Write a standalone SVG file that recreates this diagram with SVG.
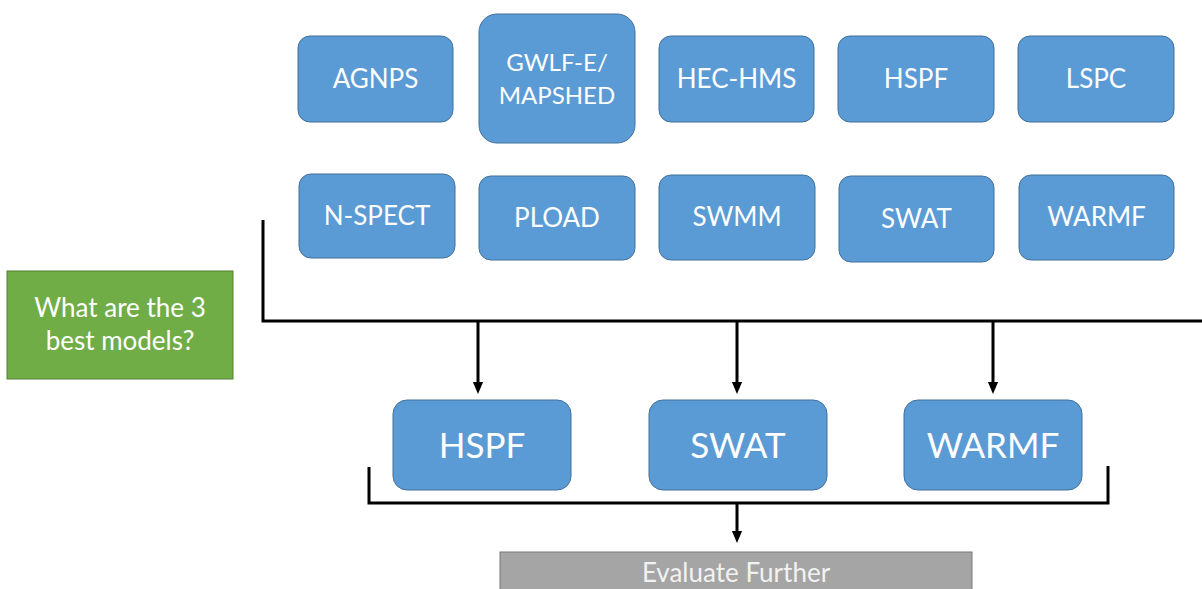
<svg xmlns="http://www.w3.org/2000/svg" width="1202" height="589" viewBox="0 0 1202 589">
<style>
.b{fill:#5B9BD5;stroke:#41719C;stroke-width:1}
.t{font-family:Lato,"Open Sans",sans-serif;fill:#fff;text-anchor:middle}
.s{font-size:26px}
.L{font-size:35px}
.c{fill:none;stroke:#000;stroke-width:3}
</style>
<defs>
<marker id="a" markerWidth="4" markerHeight="4" refX="2" refY="2" orient="auto" markerUnits="strokeWidth"><path d="M0,0.3 L4,2 L0,3.7 Z" fill="#000"/></marker>
</defs>
<rect width="1202" height="589" fill="#fff"/>
<g id="agnps"><rect class="b" x="298" y="36" width="155" height="86" rx="12"/><text class="t s" x="375.5" y="88">AGNPS</text></g>
<g id="gwlf"><rect class="b" x="479" y="14" width="156" height="129" rx="18"/><text class="t" x="557" y="71" style="font-size:24px">GWLF-E/</text><text class="t" x="557" y="104" style="font-size:24px">MAPSHED</text></g>
<g id="hechms"><rect class="b" x="659" y="36" width="155" height="86" rx="12"/><text class="t s" x="736.5" y="88">HEC-HMS</text></g>
<g id="hspf1"><rect class="b" x="838" y="36" width="156" height="86" rx="12"/><text class="t s" x="916" y="88">HSPF</text></g>
<g id="lspc"><rect class="b" x="1018" y="36" width="156" height="86" rx="12"/><text class="t s" x="1096" y="88">LSPC</text></g>
<g id="nspect"><rect class="b" x="299" y="174" width="156" height="84" rx="12"/><text class="t s" x="377" y="225">N-SPECT</text></g>
<g id="pload"><rect class="b" x="479" y="176" width="156" height="84" rx="12"/><text class="t s" x="557" y="227">PLOAD</text></g>
<g id="swmm"><rect class="b" x="659" y="175" width="156" height="85" rx="12"/><text class="t s" x="737" y="226">SWMM</text></g>
<g id="swat1"><rect class="b" x="839" y="176" width="155" height="86" rx="12"/><text class="t s" x="916.5" y="228">SWAT</text></g>
<g id="warmf1"><rect class="b" x="1019" y="175" width="155" height="85" rx="12"/><text class="t s" x="1096.5" y="226">WARMF</text></g>
<g id="question"><rect x="7" y="271" width="226" height="108" fill="#70AD47" stroke="#507E32"/><text class="t" x="120" y="317" style="font-size:26px">What are the 3</text><text class="t" x="120" y="350" style="font-size:26px">best models?</text></g>
<g id="hspf2"><rect class="b" x="393" y="400" width="178" height="90" rx="14"/><text class="t L" x="482" y="458">HSPF</text></g>
<g id="swat2"><rect class="b" x="649" y="400" width="178" height="90" rx="14"/><text class="t L" x="738" y="458">SWAT</text></g>
<g id="warmf2"><rect class="b" x="904" y="400" width="178" height="90" rx="14"/><text class="t L" x="993" y="458">WARMF</text></g>
<g id="evaluate"><rect x="500" y="552" width="472" height="50" fill="#A5A5A5" stroke="#787878"/><text class="t" x="736" y="582" style="font-size:26px;fill:#f2f2f2">Evaluate Further</text></g>
<g id="connectors">
<path class="c" d="M263,220 V321 H1202"/>
<path class="c" d="M478,321 V388" marker-end="url(#a)"/>
<path class="c" d="M737,321 V388" marker-end="url(#a)"/>
<path class="c" d="M993,321 V388" marker-end="url(#a)"/>
<path class="c" d="M369,467 V503 H1108 V466"/>
<path class="c" d="M737,503 V537" marker-end="url(#a)"/>
</g>
</svg>
